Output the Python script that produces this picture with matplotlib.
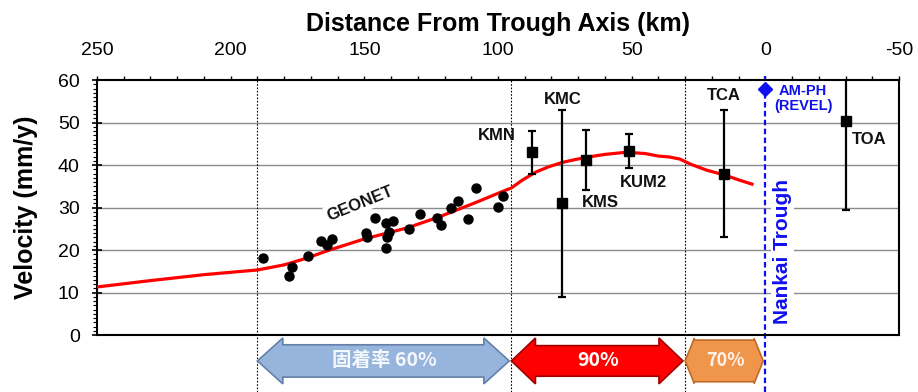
import matplotlib
matplotlib.use("Agg")
import matplotlib.pyplot as plt
from matplotlib.patches import Polygon
from matplotlib.ticker import MultipleLocator

plt.rcParams['font.family'] = ['Liberation Sans', 'DejaVu Sans']
plt.rcParams['axes.unicode_minus'] = False

# Model velocity profile (red curve)
model_km = [250, 230, 210, 190, 180, 172, 163, 150, 134, 122, 109, 99, 95,
            91, 86, 81, 76, 71, 66, 60, 52, 45, 40, 36, 32, 28, 22, 15, 10, 5]
model_v = [11.3, 12.8, 14.2, 15.3, 16.5, 18.0, 20.0, 22.6, 25.2, 27.8, 31.0,
           33.6, 34.6, 36.4, 38.3, 39.6, 40.6, 41.3, 41.9, 42.5, 43.0, 42.7,
           42.1, 41.9, 41.4, 40.2, 38.8, 37.6, 36.5, 35.5]

# GEONET site velocities
geonet_km = [188.0, 178.1, 177.2, 170.9, 166.2, 163.8, 162.2, 149.4, 149.1,
             146.0, 141.9, 139.2, 140.7, 141.6, 142.0, 133.2, 129.2, 122.9,
             121.3, 117.6, 114.8, 111.1, 108.2, 100.1, 98.0]
geonet_v = [18.2, 13.9, 16.1, 18.7, 22.2, 21.2, 22.7, 24.1, 23.0, 27.6, 26.4,
            26.9, 24.3, 23.0, 20.5, 25.0, 28.5, 27.6, 26.0, 30.0, 31.6, 27.2,
            34.5, 30.2, 32.7]

# Seafloor / island stations with uncertainties
station_names = ['KMN', 'KMC', 'KMS', 'KUM2', 'TCA', 'TOA']
station_km = [87.1, 76.2, 67.1, 51.0, 15.3, -30.0]
station_v = [43.0, 31.0, 41.2, 43.3, 38.0, 50.4]
station_err = [5.0, 22.0, 7.0, 4.0, 15.0, 21.0]

# Plate-motion model value at the trough
amph_km = 0.0
amph_v = 57.8

# Coupling-ratio zones
zone_bounds = [190, 95, 30, 0]
zone_labels = ['固着率 60%', '90%', '70%']

fig = plt.figure(figsize=(9.18, 3.92), dpi=100)
ax = fig.add_axes([0.1057, 0.1454, 0.8736, 0.6505])

ax.set_xlim(250, -50)
ax.set_ylim(0, 60)

# Horizontal grid
for gy in range(10, 60, 10):
    ax.axhline(gy, color='#8c8c8c', lw=1.0, zorder=0)

# Zone boundaries (extend below the axes)
ybot = -13.5
for xb in zone_bounds[:-1]:
    ax.plot([xb, xb], [ybot, 60], color='black', lw=0.8, ls=(0, (1.5, 1.5)),
            clip_on=False, zorder=1)
ax.plot([0, 0], [ybot, 61], color='#1010ee', lw=1.6, ls=(0, (2.5, 1.5)),
        clip_on=False, zorder=2)

ax.plot(model_km, model_v, color='#ff0000', lw=2.3, zorder=3)
ax.plot(geonet_km, geonet_v, 'o', color='black', ms=6.5, zorder=4)
ax.errorbar(station_km, station_v, yerr=station_err, fmt='s', color='black',
            ms=7, lw=1.6, capsize=3, capthick=1.6, zorder=5)
ax.plot([amph_km], [amph_v], 'D', color='#1010ee', ms=7, zorder=6, clip_on=False)

lab = dict(fontsize=12, fontweight='bold', color='#111111', zorder=7)
ax.text(100.4, 47.0, station_names[0], ha='center', va='center', **lab)
ax.text(75.7, 55.3, station_names[1], ha='center', va='center', **lab)
ax.text(68.6, 31.1, station_names[2], ha='left', va='center', **lab)
ax.text(54.3, 36.0, station_names[3], ha='left', va='center', **lab)
ax.text(15.4, 56.3, station_names[4], ha='center', va='center', **lab)
ax.text(-32.5, 46.0, station_names[5], ha='left', va='center', **lab)
ax.text(151.6, 31.0, 'GEONET', ha='center', va='center', rotation=22,
        bbox=dict(facecolor='white', edgecolor='none', pad=1.5), **lab)
ax.text(-14.1, 57.5, 'AM-PH', ha='center', va='center', fontsize=10.5,
        fontweight='bold', color='#1010ee')
ax.text(-14.1, 54.0, '(REVEL)', ha='center', va='center', fontsize=10.5,
        fontweight='bold', color='#1010ee')
ax.text(-6.3, 19.6, 'Nankai Trough', ha='center', va='center', rotation=90,
        fontsize=15, fontweight='bold', color='#1010ee',
        bbox=dict(facecolor='white', edgecolor='none', pad=1.5), zorder=7)

# Axes styling
ax.xaxis.tick_top()
ax.xaxis.set_label_position('top')
ax.xaxis.set_major_locator(MultipleLocator(50))
ax.xaxis.set_minor_locator(MultipleLocator(10))
ax.yaxis.set_major_locator(MultipleLocator(10))
ax.yaxis.set_minor_locator(MultipleLocator(1))
ax.tick_params(axis='x', which='both', direction='out', length=3, width=1,
               labelsize=14, pad=12)
ax.tick_params(axis='y', which='major', direction='inout', length=7, width=1.2,
               labelsize=14, pad=9)
ax.tick_params(axis='y', which='minor', direction='out', length=3, width=0.8)
for sp in ax.spines.values():
    sp.set_linewidth(1.5)
ax.set_xlabel('Distance From Trough Axis (km)', fontsize=18, fontweight='bold',
              labelpad=8)
ax.set_ylabel('Velocity (mm/y)', fontsize=18, fontweight='bold', labelpad=14)


def double_arrow(x_left, x_right, yc, body_h, head_h, head_l):
    return [(x_left, yc), (x_left - head_l, yc + head_h),
            (x_left - head_l, yc + body_h), (x_right + head_l, yc + body_h),
            (x_right + head_l, yc + head_h), (x_right, yc),
            (x_right + head_l, yc - head_h), (x_right + head_l, yc - body_h),
            (x_left - head_l, yc - body_h), (x_left - head_l, yc - head_h)]


zone_style = [
    dict(face='#97b5dc', edge='#6580a8', body=3.8, head=5.4, hl=9.5, fs=14,
         tc='#f4f8fc'),
    dict(face='#ff0000', edge='#a00000', body=3.6, head=5.4, hl=9.0, fs=14,
         tc='white'),
    dict(face='#f0964c', edge='#c06a28', body=4.9, head=5.3, hl=3.4, fs=13,
         tc='#fdf3ea'),
]
yc = -6.1
for (xl, xr, text, st) in zip(zone_bounds[:-1], zone_bounds[1:], zone_labels,
                              zone_style):
    verts = double_arrow(xl, xr + 0.8, yc, st['body'], st['head'], st['hl'])
    ax.add_patch(Polygon(verts, closed=True, facecolor=st['face'],
                         edgecolor=st['edge'], lw=1.2, clip_on=False, zorder=3))
    ax.text((xl + xr) / 2, yc, text, ha='center', va='center',
            fontsize=st['fs'], fontweight='bold', color=st['tc'],
            family=['Noto Sans CJK JP', 'DejaVu Sans'], clip_on=False,
            zorder=4)

fig.savefig('out.png', dpi=100, facecolor='white')
